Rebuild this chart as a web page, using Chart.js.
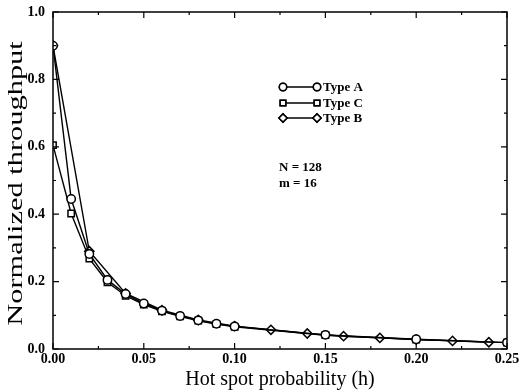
<!DOCTYPE html>
<html>
<head>
<meta charset="utf-8">
<script src="https://cdn.jsdelivr.net/npm/chart.js@4.4.1/dist/chart.umd.min.js"></script>
<style>
  body { margin: 0; background: #fff; }
  #wrap { width: 520px; height: 392px; }
</style>
</head>
<body>
<div id="wrap"><canvas id="myCanvas" width="520" height="392"></canvas></div>
<script>
// data
let xAC = [0, 0.01, 0.02, 0.03, 0.04, 0.05, 0.06, 0.07, 0.08, 0.09, 0.10, 0.15, 0.20, 0.25];
let typeA = [0.90, 0.445, 0.282, 0.205, 0.163, 0.135, 0.114, 0.098, 0.085, 0.075, 0.067, 0.042, 0.029, 0.019];
let typeC = [0.605, 0.402, 0.268, 0.198, 0.158, 0.132, 0.112, 0.097, 0.084, 0.074, 0.066, 0.041, 0.028, 0.019];
let xB = [0, 0.02, 0.04, 0.06, 0.08, 0.10, 0.12, 0.14, 0.16, 0.18, 0.20, 0.22, 0.24];
let typeB = [0.90, 0.29, 0.165, 0.115, 0.086, 0.068, 0.057, 0.046, 0.038, 0.033, 0.028, 0.024, 0.020];
let xTicks = [0, 0.05, 0.10, 0.15, 0.20, 0.25];
let yTicks = [0, 0.2, 0.4, 0.6, 0.8, 1.0];
let xMinor = [0.025, 0.075, 0.125, 0.175, 0.225];
let yMinor = [0.1, 0.3, 0.5, 0.7, 0.9];
let xTitle = "Hot spot probability (h)";
let yTitle = "Normalized throughput";
let notes = ["N = 128", "m = 16"];

const serif = "'Liberation Serif', 'DejaVu Serif', serif";

function pts(xs, ys) {
  return xs.map((x, i) => ({ x: x, y: ys[i] }));
}

let sets = [
  { label: "Type A", data: pts(xAC, typeA), pointStyle: "circle", pointRadius: 4.2, order: 1 },
  { label: "Type C", data: pts(xAC, typeC), pointStyle: "rect", pointRadius: 4.5, order: 2 },
  { label: "Type B", data: pts(xB, typeB), pointStyle: "rectRot", pointRadius: 4.6, order: 3 },
].map(d => Object.assign(d, {
  borderColor: "#000",
  backgroundColor: "#fff",
  borderWidth: 1.4,
  pointBorderWidth: 1.5,
  pointBackgroundColor: "#fff",
  pointBorderColor: "#000",
  tension: 0,
}));

// frame, inward ticks, y title, legend and notes
const extras = {
  id: "extras",
  afterDraw(chart) {
    const ctx = chart.ctx;
    const a = chart.chartArea;
    const xs = chart.scales.x, ys = chart.scales.y;
    ctx.save();
    ctx.strokeStyle = "#000";
    ctx.lineWidth = 1.5;
    ctx.strokeRect(a.left, a.top, a.right - a.left, a.bottom - a.top);

    ctx.lineWidth = 1.2;
    ctx.beginPath();
    function xt(v, len) {
      const px = xs.getPixelForValue(v);
      ctx.moveTo(px, a.bottom); ctx.lineTo(px, a.bottom - len);
      ctx.moveTo(px, a.top); ctx.lineTo(px, a.top + len);
    }
    function yt(v, len) {
      const py = ys.getPixelForValue(v);
      ctx.moveTo(a.left, py); ctx.lineTo(a.left + len, py);
      ctx.moveTo(a.right, py); ctx.lineTo(a.right - len, py);
    }
    xTicks.forEach(v => xt(v, 6));
    xMinor.forEach(v => xt(v, 3));
    yTicks.forEach(v => yt(v, 6));
    yMinor.forEach(v => yt(v, 3));
    ctx.stroke();

    // y title, stretched like the scan
    ctx.fillStyle = "#000";
    ctx.font = "20px " + serif;
    ctx.textAlign = "center";
    ctx.textBaseline = "middle";
    ctx.save();
    ctx.translate(17, (a.top + a.bottom) / 2 + 3);
    ctx.rotate(-Math.PI / 2);
    ctx.scale(1.52, 1);
    ctx.fillText(yTitle, 0, 0);
    ctx.restore();

    // legend
    ctx.font = "bold 13px " + serif;
    ctx.textAlign = "left";
    const lx0 = 283, lx1 = 317, ly = [87, 103, 118];
    chart.data.datasets.forEach((d, i) => {
      const y = ly[i];
      ctx.lineWidth = 1.4;
      ctx.beginPath();
      ctx.moveTo(lx0, y); ctx.lineTo(lx1, y);
      ctx.stroke();
      [lx0, lx1].forEach(x => {
        ctx.lineWidth = 1.5;
        ctx.fillStyle = "#fff";
        Chart.helpers.drawPoint(ctx, { pointStyle: d.pointStyle, radius: d.pointRadius - 0.5, borderWidth: 1.5 }, x, y);
        ctx.fill();
        ctx.stroke();
      });
      ctx.fillStyle = "#000";
      ctx.fillText(d.label, 323, y + 1);
    });

    ctx.font = "bold 13px " + serif;
    ctx.fillText(notes[0], 279, 168);
    ctx.fillText(notes[1], 279, 184);
    ctx.restore();
  }
};

let myCanvas = document.getElementById("myCanvas").getContext("2d");
let chart = new Chart(myCanvas, {
  type: "line",
  data: { datasets: sets },
  options: {
    responsive: false,
    animation: false,
    layout: { padding: { top: 12, right: 13, left: 0, bottom: 0 } },
    plugins: { legend: { display: false }, tooltip: { enabled: false } },
    scales: {
      x: {
        type: "linear",
        min: 0,
        max: 0.25,
        afterBuildTicks: s => { s.ticks = xTicks.map(v => ({ value: v })); },
        afterFit: s => { s.height = 43; s.paddingLeft = 0; s.paddingRight = 0; },
        grid: { display: false, drawTicks: false },
        border: { display: false },
        ticks: {
          padding: 2,
          color: "#000",
          font: { family: serif, size: 14, weight: "bold" },
          callback: v => v.toFixed(2),
        },
        title: {
          display: true,
          text: xTitle,
          color: "#000",
          padding: { top: 0, bottom: 0 },
          font: { family: serif, size: 20 },
        },
      },
      y: {
        type: "linear",
        min: 0,
        max: 1,
        afterBuildTicks: s => { s.ticks = yTicks.map(v => ({ value: v })); },
        afterFit: s => { s.width = 53; s.paddingTop = 0; s.paddingBottom = 0; },
        grid: { display: false, drawTicks: false },
        border: { display: false },
        ticks: {
          padding: 8,
          color: "#000",
          font: { family: serif, size: 14, weight: "bold" },
          callback: v => v.toFixed(1),
        },
      },
    },
  },
  plugins: [extras],
});
</script>
</body>
</html>
